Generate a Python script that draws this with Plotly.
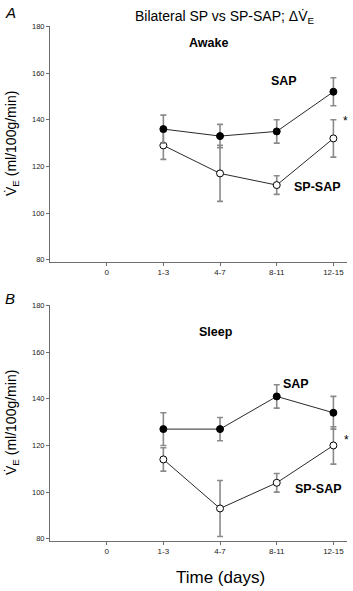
import plotly.graph_objects as go

categories = ["0", "1-3", "4-7", "8-11", "12-15"]
days = ["1-3", "4-7", "8-11", "12-15"]

awake_sap = [136, 133, 135, 152]
awake_sap_err = [6, 5, 5, 6]
awake_spsap = [129, 117, 112, 132]
awake_spsap_err = [6, 12, 4, 8]

sleep_sap = [127, 127, 141, 134]
sleep_sap_err = [7, 5, 5, 7]
sleep_spsap = [114, 93, 104, 120]
sleep_spsap_err = [5, 12, 4, 8]

y_ticks = [80, 100, 120, 140, 160, 180]

W, H = 353, 591
FONT = "Liberation Sans, Arial, sans-serif"
LINE = "#2a2a2a"
ERR = "#8a8a8a"
AX = "#6e6e6e"

fig = go.Figure()


def add_series(y, err, filled, xa, ya):
    fig.add_trace(go.Scatter(
        x=days, y=y, xaxis=xa, yaxis=ya, mode="lines+markers",
        line=dict(color=LINE, width=1),
        marker=dict(size=7, symbol="circle",
                    color="black" if filled else "white",
                    line=dict(color="black", width=1)),
        error_y=dict(type="data", array=err, visible=True,
                     color=ERR, thickness=1.6, width=3),
        showlegend=False, cliponaxis=False,
    ))


add_series(awake_spsap, awake_spsap_err, False, "x", "y")
add_series(awake_sap, awake_sap_err, True, "x", "y")
add_series(sleep_spsap, sleep_spsap_err, False, "x2", "y2")
add_series(sleep_sap, sleep_sap_err, True, "x2", "y2")

x0, x1 = 50 / W, 347 / W
domA = [1 - 260.7 / H, 1 - 22.7 / H]
domB = [1 - 543.1 / H, 1 - 305 / H]

xcommon = dict(
    type="category", categoryorder="array", categoryarray=categories,
    tickvals=categories, ticktext=categories,
    range=[-1, 4.24], domain=[x0, x1], showgrid=False, zeroline=False,
    showline=True, linecolor=AX, linewidth=1,
    ticks="outside", ticklen=3, tickcolor=AX, tickwidth=1,
    tickfont=dict(family=FONT, size=8, color="#222"),
)
ycommon = dict(
    range=[79.2, 180], tickvals=y_ticks, showgrid=False, zeroline=False,
    showline=True, linecolor=AX, linewidth=1,
    ticks="outside", ticklen=3, tickcolor=AX, tickwidth=1,
    tickfont=dict(family=FONT, size=7.5, color="#222"),
)

fig.update_layout(
    width=W, height=H,
    margin=dict(l=0, r=0, t=0, b=0),
    paper_bgcolor="white", plot_bgcolor="white",
    xaxis=dict(xcommon, anchor="y"),
    yaxis=dict(ycommon, domain=domA, anchor="x"),
    xaxis2=dict(xcommon, anchor="y2"),
    yaxis2=dict(ycommon, domain=domB, anchor="x2"),
)

ann = []


def label(text, x, y, xref, yref, size=12.5, bold=True):
    ann.append(dict(text=f"<b>{text}</b>" if bold else text, x=x, y=y,
                    xref=xref, yref=yref, showarrow=False,
                    xanchor="center", yanchor="middle",
                    font=dict(family=FONT, size=size, color="black")))


label("Awake", 1.80, 173.1, "x", "y")
label("SAP", 3.13, 156.6, "x", "y")
label("SP-SAP", 3.72, 111.1, "x", "y")
label("*", 4.22, 139.4, "x", "y", size=12, bold=False)

label("Sleep", 1.92, 168.7, "x2", "y2")
label("SAP", 3.335, 146.4, "x2", "y2")
label("SP-SAP", 3.73, 101.5, "x2", "y2")
label("*", 4.235, 122.4, "x2", "y2", size=12, bold=False)

# title and panel letters
ann.append(dict(text="Bilateral SP vs SP-SAP; ΔV\u0307<sub>E</sub>",
                x=225 / W, y=1 - 13 / H, xref="paper", yref="paper",
                showarrow=False, xanchor="center", yanchor="middle",
                font=dict(family=FONT, size=14, color="black")))
ann.append(dict(text="<i>A</i>", x=3 / W, y=1 - 9 / H, xref="paper", yref="paper",
                showarrow=False, xanchor="left", yanchor="middle",
                font=dict(family=FONT, size=15, color="black")))
ann.append(dict(text="<i>B</i>", x=3 / W, y=1 - 298 / H, xref="paper", yref="paper",
                showarrow=False, xanchor="left", yanchor="middle",
                font=dict(family=FONT, size=15, color="black")))

# y-axis titles
for yc in [(domA[0] + domA[1]) / 2, (domB[0] + domB[1]) / 2]:
    ann.append(dict(text="V\u0307<sub>E</sub> (ml/100g/min)", x=12 / W, y=yc,
                    xref="paper", yref="paper", showarrow=False, textangle=-90,
                    xanchor="center", yanchor="middle",
                    font=dict(family=FONT, size=14, color="black")))

# x-axis title
ann.append(dict(text="Time (days)", x=220 / W, y=1 - 580 / H,
                xref="paper", yref="paper", showarrow=False,
                xanchor="center", yanchor="middle",
                font=dict(family=FONT, size=17, color="black")))

fig.update_layout(annotations=ann)
fig.write_html(
    "out.html",
    config={"displayModeBar": False},
    post_script="document.body.style.margin='0';document.body.style.padding='0';"
                "document.body.style.overflow='hidden';"
                "document.documentElement.style.overflow='hidden';",
)
